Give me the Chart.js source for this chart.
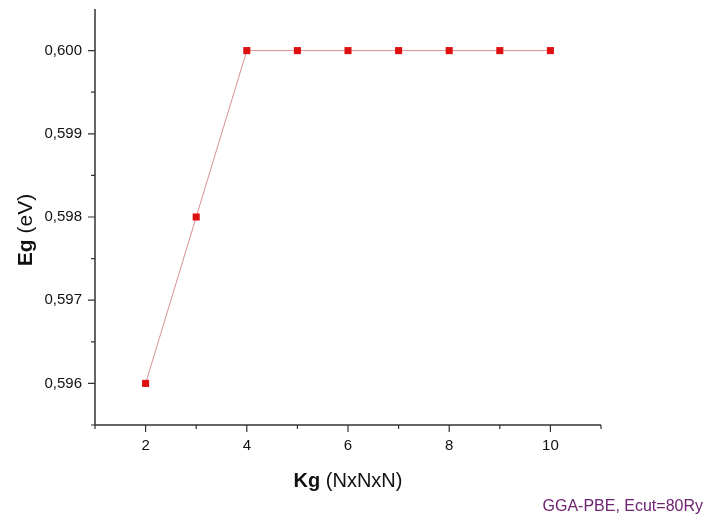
<!DOCTYPE html>
<html>
<head>
<meta charset="utf-8">
<script src="https://cdn.jsdelivr.net/npm/chart.js@4"></script>
<style>
  html, body { margin: 0; padding: 0; background: #fff; }
  #wrap { width: 705px; height: 515px; }
</style>
</head>
<body>
<div id="wrap"><canvas id="lineChart" width="705" height="515"></canvas></div>
<script>
// k-point grid N (NxNxN) and band gap in eV
var kgValues = [2, 3, 4, 5, 6, 7, 8, 9, 10];
var egValues = [0.596, 0.598, 0.600, 0.600, 0.600, 0.600, 0.600, 0.600, 0.600];
var xTicks = [2, 4, 6, 8, 10];
var yTicks = [0.596, 0.597, 0.598, 0.599, 0.600];

var font = 'Liberation Sans, Arial, sans-serif';
var axisColor = '#333';

// axis lines, major/minor tick marks and the titles
var decor = {
    id: 'decor',
    afterDraw: function (chart) {
        var c = chart.ctx;
        var xs = chart.scales.x, ys = chart.scales.y;
        var a = chart.chartArea;
        c.save();
        c.strokeStyle = axisColor;
        c.lineWidth = 1.5;
        c.beginPath();
        c.moveTo(a.left, a.top); c.lineTo(a.left, a.bottom); c.lineTo(a.right, a.bottom);
        c.stroke();
        c.lineWidth = 1.2;
        c.beginPath();
        for (var v = 1; v <= 11; v++) {
            var px = xs.getPixelForValue(v);
            var len = (v % 2 === 0) ? 7 : 4;
            c.moveTo(px, a.bottom); c.lineTo(px, a.bottom + len);
        }
        for (var i = 0; i <= 9; i++) {
            var val = 0.5955 + i * 0.0005;
            var py = ys.getPixelForValue(val);
            var major = (i % 2 === 1);
            c.moveTo(a.left, py); c.lineTo(a.left - (major ? 7 : 4), py);
        }
        c.stroke();

        // x title: bold "Kg" + normal " (NxNxN)"
        c.fillStyle = '#111';
        c.textBaseline = 'alphabetic';
        var b1 = 'bold 20px ' + font, n1 = '20px ' + font;
        c.font = b1; var w1 = c.measureText('Kg').width;
        c.font = n1; var w2 = c.measureText(' (NxNxN)').width;
        var cx = (a.left + a.right) / 2;
        var sx = cx - (w1 + w2) / 2;
        c.font = b1; c.textAlign = 'left'; c.fillText('Kg', sx, 487);
        c.font = n1; c.fillText(' (NxNxN)', sx + w1, 487);

        // y title rotated
        var b2 = 'bold 21px ' + font, n2 = '21px ' + font;
        c.save();
        c.translate(32, 230);
        c.rotate(-Math.PI / 2);
        c.font = b2; w1 = c.measureText('Eg').width;
        c.font = n2; w2 = c.measureText(' (eV)').width;
        sx = -(w1 + w2) / 2;
        c.font = b2; c.fillText('Eg', sx, 0);
        c.font = n2; c.fillText(' (eV)', sx + w1, 0);
        c.restore();

        // note in bottom right
        c.font = '16px ' + font;
        c.fillStyle = '#6e2270';
        c.textAlign = 'right';
        c.fillText('GGA-PBE, Ecut=80Ry', 703, 511);
        c.restore();
    }
};

var ctx = document.getElementById('lineChart').getContext('2d');
var lineChart = new Chart(ctx, {
    type: 'line',
    data: {
        datasets: [{
            label: 'Eg',
            data: kgValues.map(function (k, i) { return { x: k, y: egValues[i] }; }),
            borderColor: '#d89090',
            borderWidth: 1,
            backgroundColor: '#dd1111',
            pointStyle: 'rect',
            pointRadius: 5,
            pointBorderWidth: 0,
            pointBorderColor: '#dd1111',
            fill: false,
            tension: 0
        }]
    },
    options: {
        responsive: false,
        animation: false,
        layout: { autoPadding: false, padding: { left: 0, top: 9, right: 104, bottom: 0 } },
        plugins: { legend: { display: false }, tooltip: { enabled: false } },
        scales: {
            x: {
                type: 'linear',
                min: 1,
                max: 11,
                afterFit: function (s) { s.height = 90; s.paddingLeft = 0; s.paddingRight = 0; },
                afterBuildTicks: function (s) { s.ticks = xTicks.map(function (v) { return { value: v }; }); },
                grid: { display: false, drawTicks: false, tickLength: 0 },
                border: { display: false },
                ticks: {
                    font: { family: font, size: 15 },
                    color: '#111',
                    padding: 12,
                    maxRotation: 0
                }
            },
            y: {
                min: 0.5955,
                max: 0.6005,
                afterFit: function (s) { s.width = 95; s.paddingTop = 0; s.paddingBottom = 0; },
                afterBuildTicks: function (s) { s.ticks = yTicks.map(function (v) { return { value: v }; }); },
                grid: { display: false, drawTicks: false, tickLength: 0 },
                border: { display: false },
                ticks: {
                    font: { family: font, size: 15 },
                    color: '#111',
                    padding: 13,
                    callback: function (v) { return v.toFixed(3).replace('.', ','); }
                }
            }
        }
    },
    plugins: [decor]
});
</script>
</body>
</html>
